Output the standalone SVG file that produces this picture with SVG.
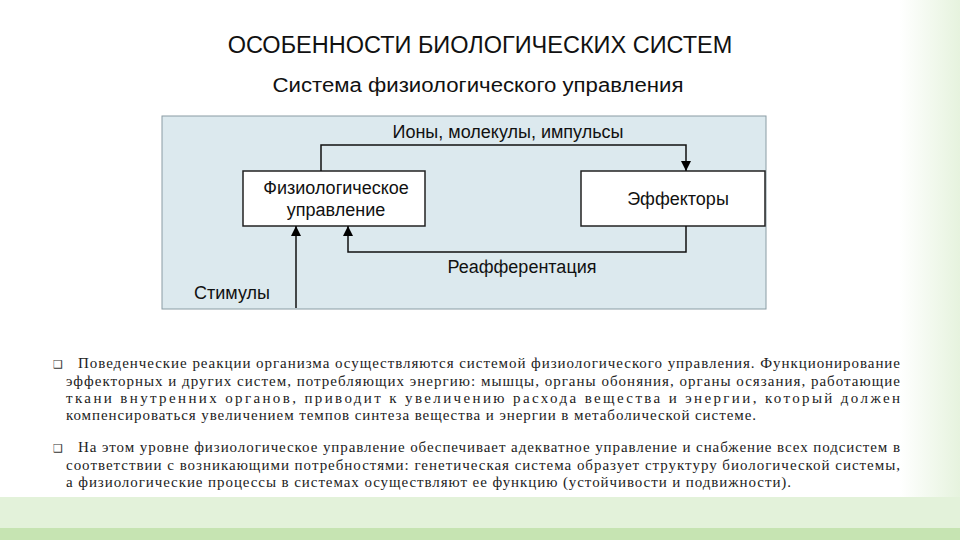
<svg xmlns="http://www.w3.org/2000/svg" width="960" height="540" viewBox="0 0 960 540">
<defs>
<linearGradient id="rg" x1="0" x2="1" y1="0" y2="0"><stop offset="0" stop-color="#ffffff"/><stop offset="1" stop-color="#e6f3de"/></linearGradient>
<marker id="ah" viewBox="0 0 10 10" refX="10" refY="5" markerWidth="10" markerHeight="10" markerUnits="userSpaceOnUse" orient="auto"><path d="M0,0 L10,5 L0,10 z" fill="#000"/></marker>
</defs>
<style>
.t{font-family:"Liberation Sans",Arial,sans-serif;fill:#111}
.d{font-family:"Liberation Sans",Arial,sans-serif;font-size:18px;fill:#111}
.p{font-family:"Liberation Serif","Times New Roman",serif;font-size:15px;fill:#222}
.box{fill:#fff;stroke:#222;stroke-width:1.5}
.c{fill:none;stroke:#111;stroke-width:1.5}
</style>
<rect width="960" height="540" fill="#fff"/>
<rect x="900" y="0" width="60" height="497" fill="url(#rg)"/>
<rect x="0" y="497" width="960" height="31" fill="#e3f2da"/>
<rect x="0" y="528" width="960" height="12" fill="#c6e4b2"/>
<text class="t" x="480" y="53" font-size="23.5" text-anchor="middle">ОСОБЕННОСТИ БИОЛОГИЧЕСКИХ СИСТЕМ</text>
<text class="t" x="478" y="92" font-size="20" text-anchor="middle" fill="#333" textLength="411" lengthAdjust="spacingAndGlyphs">Система физиологического управления</text>
<rect x="162" y="116" width="604" height="193" fill="#dce9ee" stroke="#8a9ca4" stroke-width="1"/>
<g id="physio"><rect class="box" x="243" y="171" width="182" height="55"/><text class="d" x="336" y="194" text-anchor="middle">Физиологическое</text><text class="d" x="336" y="216" text-anchor="middle">управление</text></g>
<g id="effectors"><rect class="box" x="581" y="171" width="184" height="55"/><text class="d" x="678" y="205" text-anchor="middle">Эффекторы</text></g>
<g id="connectors">
<path class="c" d="M321,171 V145 H686 V171" marker-end="url(#ah)"/>
<path class="c" d="M686,226 V252 H348 V226" marker-end="url(#ah)"/>
<path class="c" d="M296,308 V226" marker-end="url(#ah)"/>
</g>
<text class="d" x="508" y="138" text-anchor="middle">Ионы, молекулы, импульсы</text>
<text class="d" x="522" y="273" text-anchor="middle">Реафферентация</text>
<text class="d" x="194" y="299">Стимулы</text>
<text x="53" y="368" font-family="DejaVu Sans" font-size="11" fill="#333">❑</text>
<text class="p" x="78" y="368" textLength="822" lengthAdjust="spacing">Поведенческие реакции организма осуществляются системой физиологического управления. Функционирование</text>
<text class="p" x="66" y="386" textLength="834" lengthAdjust="spacing">эффекторных и других систем, потребляющих энергию: мышцы, органы обоняния, органы осязания, работающие</text>
<text class="p" x="66" y="403" textLength="834" lengthAdjust="spacing">ткани внутренних органов, приводит к увеличению расхода вещества и энергии, который должен</text>
<text class="p" x="66" y="420" textLength="690" lengthAdjust="spacing">компенсироваться увеличением темпов синтеза вещества и энергии в метаболической системе.</text>
<text x="53" y="452" font-family="DejaVu Sans" font-size="11" fill="#333">❑</text>
<text class="p" x="78" y="452" textLength="822" lengthAdjust="spacing">На этом уровне физиологическое управление обеспечивает адекватное управление и снабжение всех подсистем в</text>
<text class="p" x="66" y="470" textLength="834" lengthAdjust="spacing">соответствии с возникающими потребностями: генетическая система образует структуру биологической системы,</text>
<text class="p" x="66" y="487" textLength="725" lengthAdjust="spacing">а физиологические процессы в системах осуществляют ее функцию (устойчивости и подвижности).</text>
</svg>
